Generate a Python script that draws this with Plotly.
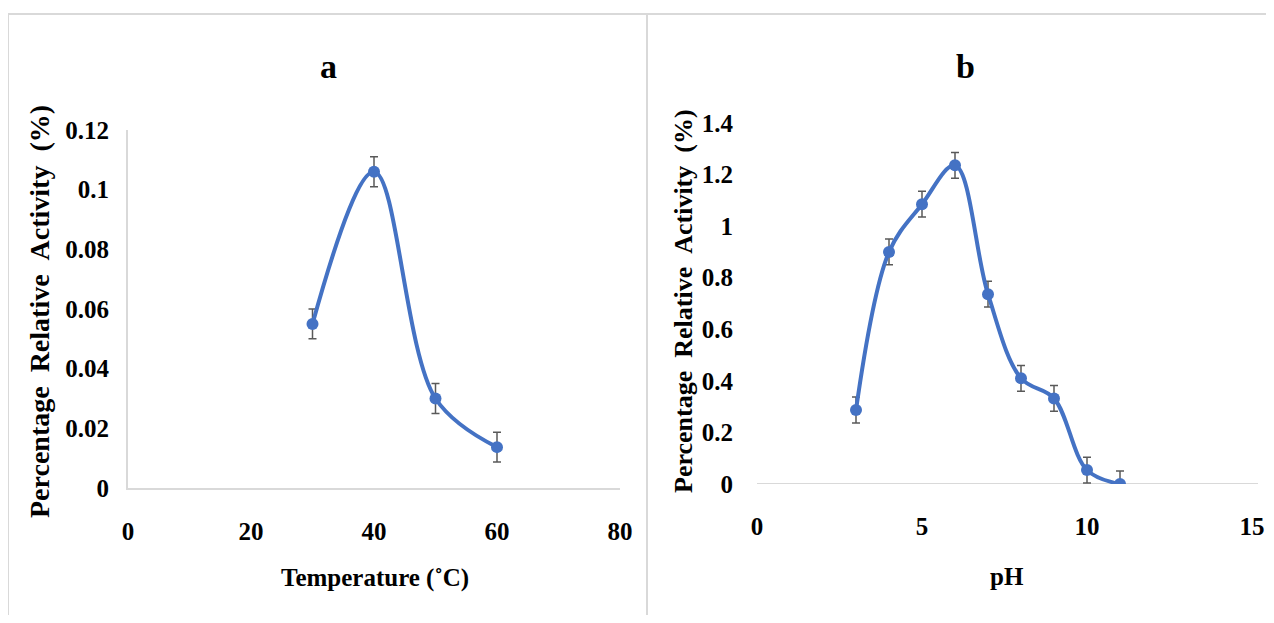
import plotly.graph_objects as go

# The page adds an 8 px body margin, so the figure is sized to fit the window
# and every reference pixel position is shifted by that margin.
OFF = 8
W, H = 1274 - 2 * OFF, 623 - 2 * OFF

# Panel a data
temp = [30, 40, 50, 60]
act_temp = [0.0550, 0.1060, 0.0300, 0.0137]
err_temp = [0.0050, 0.0050, 0.0050, 0.0050]

# Panel b data
ph = [3, 4, 5, 6, 7, 8, 9, 10, 11]
act_ph = [0.287, 0.900, 1.085, 1.236, 0.736, 0.410, 0.332, 0.054, 0.0]
err_ph = [0.05, 0.05, 0.05, 0.05, 0.05, 0.05, 0.05, 0.05, 0.05]

xticks_a = [0, 20, 40, 60, 80]
yticks_a = [0, 0.02, 0.04, 0.06, 0.08, 0.1, 0.12]
ytext_a = ["0", "0.02", "0.04", "0.06", "0.08", "0.1", "0.12"]
xticks_b = [0, 5, 10, 15]
yticks_b = [0, 0.2, 0.4, 0.6, 0.8, 1.0, 1.2, 1.4]
ytext_b = ["0", "0.2", "0.4", "0.6", "0.8", "1", "1.2", "1.4"]

BLUE = "#4472C4"
ERR = "#595959"
GRID = "#d9d9d9"
FONT = "Liberation Serif"

fig = go.Figure()

fig.add_trace(go.Scatter(
    x=temp, y=act_temp, mode="lines+markers",
    line=dict(color=BLUE, width=4, shape="spline", smoothing=1.0),
    marker=dict(color=BLUE, size=12),
    error_y=dict(type="data", array=err_temp, color=ERR, thickness=1.5, width=4),
    xaxis="x", yaxis="y", showlegend=False,
))
fig.add_trace(go.Scatter(
    x=ph, y=act_ph, mode="lines+markers",
    line=dict(color=BLUE, width=4, shape="spline", smoothing=1.0),
    marker=dict(color=BLUE, size=12),
    error_y=dict(type="data", array=err_ph, color=ERR, thickness=1.5, width=4),
    xaxis="x2", yaxis="y2", showlegend=False,
))

tickfont = dict(family=FONT, size=25, color="black", weight="bold")


def px_x(p):
    return (p - OFF) / W


def px_y(p):
    return (H - (p - OFF)) / H


common = dict(showgrid=False, zeroline=False, automargin=False, fixedrange=True,
              tickfont=tickfont, ticks="outside", tickcolor="rgba(0,0,0,0)")

fig.update_layout(
    width=W, height=H,
    margin=dict(l=0, r=0, t=0, b=0, pad=0, autoexpand=False),
    paper_bgcolor="white", plot_bgcolor="white",
    font=dict(family=FONT, color="black"),
    xaxis=dict(
        domain=[px_x(128), px_x(620)], range=[0, 80],
        tickvals=xticks_a, ticktext=[str(v) for v in xticks_a],
        showline=True, linecolor=GRID, linewidth=2,
        ticklen=20, anchor="y", **common,
    ),
    yaxis=dict(
        domain=[px_y(488), px_y(130)], range=[0, 0.12],
        tickvals=yticks_a, ticktext=ytext_a,
        showline=True, linecolor=GRID, linewidth=2,
        ticklen=12, anchor="x", **common,
    ),
    xaxis2=dict(
        domain=[px_x(757), px_x(1252)], range=[0, 15],
        tickvals=xticks_b, ticktext=[str(v) for v in xticks_b],
        showline=False,
        ticklen=20, anchor="y2", **common,
    ),
    yaxis2=dict(
        domain=[px_y(484), px_y(123)], range=[0, 1.4],
        tickvals=yticks_b, ticktext=ytext_b,
        showline=False,
        ticklen=18, anchor="x2", **common,
    ),
)

# x-axis line of panel b (extends slightly past the last tick, like the reference)
fig.add_shape(type="line", xref="paper", yref="y2",
              x0=px_x(757), x1=px_x(1258), y0=0, y1=0,
              line=dict(color=GRID, width=2), layer="below")

# Panel frames
fig.add_shape(type="rect", xref="paper", yref="paper",
              x0=px_x(8), x1=px_x(647), y0=-0.05, y1=px_y(14),
              line=dict(color=GRID, width=2))
fig.add_shape(type="rect", xref="paper", yref="paper",
              x0=px_x(647), x1=1.05, y0=-0.05, y1=px_y(14),
              line=dict(color=GRID, width=2))


def note(text, x, y, size, angle=0):
    return dict(text=text, x=px_x(x), y=px_y(y), xref="paper", yref="paper",
                xanchor="center", yanchor="middle", showarrow=False,
                textangle=angle, font=dict(family=FONT, size=size, color="black"))


GAP = "&nbsp;" * 2
ytitle = "<b>Percentage" + GAP + "Relative" + GAP + "Activity" + GAP + "(%)</b>"
ann = [
    note("<b>a</b>", 328, 66, 34),
    note("<b>b</b>", 965, 66, 34),
    note("<b>Temperature (˚C)</b>", 375, 578, 25),
    note("<b>pH</b>", 1007, 576, 25),
    note(ytitle, 39, 312, 28, -90),
    note(ytitle, 683, 301, 26, -90),
]
fig.update_layout(annotations=ann)

fig.write_html("out.html")
